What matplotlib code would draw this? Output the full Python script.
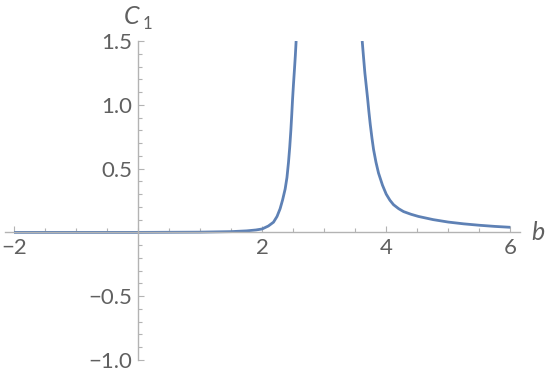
import matplotlib.pyplot as plt
from matplotlib.ticker import MultipleLocator, FixedLocator

# branch below the pole
b_left = [-2.0, -1.0, 0.0, 0.5, 1.0, 1.5, 1.75, 1.9, 2.0, 2.1, 2.183, 2.24, 2.29,
          2.33, 2.371, 2.40, 2.425, 2.445, 2.463, 2.477, 2.49, 2.505, 2.52, 2.535, 2.548]
c_left = [0.0, 0.0, 0.0, 0.001, 0.002, 0.006, 0.012, 0.019, 0.027, 0.05, 0.08, 0.125, 0.186,
          0.255, 0.34, 0.43, 0.55, 0.67, 0.80, 0.92, 1.04, 1.16, 1.27, 1.385, 1.50]

# branch above the pole
b_right = [3.613, 3.635, 3.656, 3.678, 3.70, 3.72, 3.742, 3.77, 3.796, 3.835, 3.876,
           3.94, 4.0, 4.06, 4.118, 4.2, 4.28, 4.4, 4.52, 4.758, 5.0, 5.25, 5.5, 5.75, 6.0]
c_right = [1.50, 1.37, 1.25, 1.15, 1.05, 0.95, 0.85, 0.74, 0.65, 0.55, 0.465,
           0.37, 0.30, 0.252, 0.217, 0.186, 0.163, 0.142, 0.125, 0.10, 0.081, 0.067, 0.056, 0.047, 0.04]

x_major = [-2, 2, 4, 6]
y_major = [-1.0, -0.5, 0.5, 1.0, 1.5]

plt.rcParams['font.family'] = ['Lato', 'DejaVu Sans']

axis_col = '#b3b3b3'
text_col = '#606060'
line_col = '#5e81b5'

fig = plt.figure(figsize=(5.5, 3.78), dpi=100)
ax = fig.add_axes([4.7 / 550, 18 / 378, 515.5 / 550, 319 / 378])

ax.plot(b_left, c_left, color=line_col, lw=2.0, solid_capstyle='butt')
ax.plot(b_right, c_right, color=line_col, lw=2.0, solid_capstyle='butt')

ax.set_xlim(-2.15, 6.16)
ax.set_ylim(-1.0, 1.5)

for s in ['top', 'right']:
    ax.spines[s].set_visible(False)
ax.spines['left'].set_position(('data', 0))
ax.spines['bottom'].set_position(('data', 0))
for s in ['left', 'bottom']:
    ax.spines[s].set_color(axis_col)
    ax.spines[s].set_linewidth(1.0)

ax.xaxis.set_major_locator(FixedLocator(x_major))
ax.xaxis.set_minor_locator(MultipleLocator(0.5))
ax.yaxis.set_major_locator(FixedLocator(y_major))
ax.yaxis.set_minor_locator(MultipleLocator(0.1))
ax.set_xticklabels(['\u22122', '2', '4', '6'])
ax.set_yticklabels(['\u22121.0', '\u22120.5', '0.5', '1.0', '1.5'])

ax.tick_params(which='both', direction='in', color=axis_col, width=0.8,
               labelcolor=text_col, labelsize=16)
ax.tick_params(which='major', length=4.5)
ax.tick_params(which='minor', length=2.8)
ax.tick_params(axis='x', pad=4)
ax.tick_params(axis='y', pad=4)

# axis labels
ax.text(6.45, 0.0, 'b', fontsize=18, style='italic', color=text_col,
        ha='center', va='center')
ax.text(-0.11, 1.69, 'C', fontsize=18, style='italic', color=text_col,
        ha='center', va='center', clip_on=False)
ax.text(0.15, 1.635, '1', fontsize=12, color=text_col,
        ha='center', va='center', clip_on=False)

fig.savefig('out.png', dpi=100)
